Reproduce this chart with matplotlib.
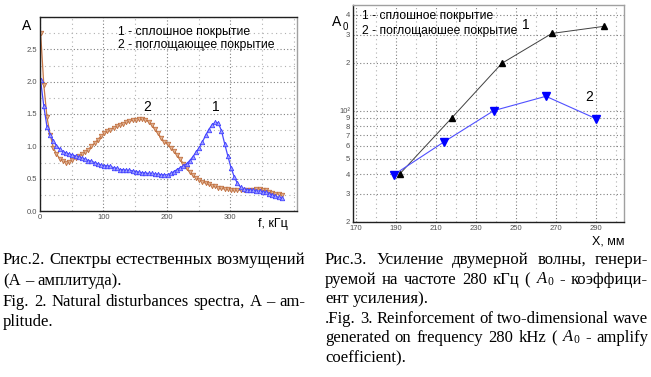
import matplotlib
matplotlib.use('Agg')
import matplotlib.pyplot as plt
from matplotlib.ticker import FixedLocator, MultipleLocator, NullFormatter
from matplotlib.transforms import IdentityTransform
import numpy as np

plt.rcParams['font.family'] = ['Liberation Sans', 'DejaVu Sans']
plt.rcParams['mathtext.fontset'] = 'custom'
plt.rcParams['mathtext.it'] = 'Liberation Serif:italic'
plt.rcParams['mathtext.rm'] = 'Liberation Serif'

# ---------------- Data: Fig. 2 (spectra) ----------------
freq_khz = list(range(1, 382, 5))
amp_solid = [2.02, 1.62, 1.30, 1.18, 1.08, 1.01, 0.96, 0.92, 0.90, 0.88,
             0.87, 0.85, 0.83, 0.82, 0.80, 0.78, 0.77, 0.75, 0.73, 0.71,
             0.70, 0.70, 0.69, 0.67, 0.66, 0.64, 0.64, 0.63, 0.63, 0.62,
             0.61, 0.60, 0.59, 0.59, 0.58, 0.58, 0.57, 0.57, 0.56, 0.56,
             0.56, 0.58, 0.61, 0.64, 0.67, 0.70, 0.73, 0.78, 0.84, 0.91,
             0.98, 1.07, 1.17, 1.26, 1.33, 1.37, 1.36, 1.24, 1.04, 0.85,
             0.67, 0.53, 0.43, 0.37, 0.34, 0.33, 0.33, 0.32, 0.31, 0.31,
             0.30, 0.29, 0.27, 0.25, 0.23, 0.21, 0.20]
amp_absorb = [2.75, 1.95, 1.45, 1.18, 0.98, 0.88, 0.81, 0.77, 0.75, 0.76,
              0.79, 0.82, 0.85, 0.88, 0.91, 0.95, 1.00, 1.05, 1.10, 1.16,
              1.20, 1.23, 1.26, 1.29, 1.31, 1.33, 1.35, 1.37, 1.39, 1.40,
              1.41, 1.42, 1.42, 1.41, 1.38, 1.33, 1.27, 1.20, 1.13, 1.07,
              1.03, 0.98, 0.93, 0.87, 0.80, 0.73, 0.66, 0.60, 0.55, 0.51,
              0.48, 0.45, 0.43, 0.41, 0.39, 0.38, 0.36, 0.35, 0.34, 0.34,
              0.33, 0.33, 0.33, 0.32, 0.32, 0.32, 0.32, 0.33, 0.34, 0.34,
              0.33, 0.32, 0.30, 0.28, 0.27, 0.26, 0.25]
x2_ticks = [0, 100, 200, 300]
y2_ticks = [0.0, 0.5, 1.0, 1.5, 2.0, 2.5]
y2_ticklabels = ['0.0', '0.5', '1.0', '1.5', '2.0', '2.5']

# ---------------- Data: Fig. 3 (amplification) ----------------
x_solid_mm = [192, 218, 243, 268, 294]
a0_solid = [40, 90, 198, 305, 338]
x_absorb_mm = [189, 214, 239, 265, 290]
a0_absorb = [39.5, 63.5, 100, 123, 89]
x3_ticks = [170, 190, 210, 230, 250, 270, 290]
y3_ticks = [20, 30, 40, 50, 60, 70, 80, 90, 100, 200, 300, 400]
y3_ticklabels = ['2', '3', '4', '5', '6', '7', '8', '9', '10²', '2', '3', '4']

legend_lines_2 = ['1 - сплошное покрытие', '2 - поглощающее покрытие']
legend_lines_3 = ['1 - сплошное покрытие', '2 - поглощаюшее покрытие']

W, H = 651, 377
fig = plt.figure(figsize=(W / 100, H / 100), dpi=100)

def ax_rect(l, t, r, b):
    return [l / W, 1 - b / H, (r - l) / W, (b - t) / H]

tick_col = '#505050'
grid_major = dict(color='#808080', linestyle=(0, (1, 2)), linewidth=0.8)
grid_minor = dict(color='#b0b0b0', linestyle=(0, (1, 3)), linewidth=0.8)

# ---------- Left chart ----------
ax1 = fig.add_axes(ax_rect(40, 17, 297, 211))
ax1.plot(freq_khz, amp_absorb, color='#c87848', lw=0.9, marker='v', ms=3.2,
         mfc='#e0b090', mec='#c07040', mew=0.6)
ax1.plot(freq_khz, amp_solid, color='#4848ff', lw=0.9, marker='^', ms=3.2,
         mfc='#a0a0ff', mec='#4040ff', mew=0.6)
ax1.set_xlim(0, 405)
ax1.set_ylim(0, 3.0)
ax1.xaxis.set_major_locator(FixedLocator(x2_ticks))
ax1.xaxis.set_minor_locator(MultipleLocator(50))
ax1.yaxis.set_major_locator(FixedLocator(y2_ticks))
ax1.yaxis.set_minor_locator(MultipleLocator(0.25))
ax1.set_yticklabels(y2_ticklabels)
ax1.grid(True, which='major', **grid_major)
ax1.grid(True, which='minor', **grid_minor)
ax1.tick_params(which='both', length=0, labelsize=5.5, labelcolor=tick_col, pad=2)
ax1.set_axisbelow(True)
for s in ['left', 'top', 'bottom']:
    ax1.spines[s].set_color('#202020')
    ax1.spines[s].set_linewidth(1.0)
ax1.spines['right'].set_color('#a0a0a0')
ax1.spines['right'].set_linewidth(1.0)

fig.text(27 / W, 1 - 26 / H, 'A', fontsize=10, ha='center', va='center')
fig.text(118 / W, 1 - 32 / H, legend_lines_2[0], fontsize=8.8, ha='left', va='center')
fig.text(118 / W, 1 - 45 / H, legend_lines_2[1], fontsize=8.8, ha='left', va='center')
fig.text(147 / W, 1 - 107 / H, '2', fontsize=10, ha='center', va='center')
fig.text(216 / W, 1 - 107 / H, '1', fontsize=10, ha='center', va='center')
fig.text(273 / W, 1 - 224 / H, 'f, кГц', fontsize=9, ha='center', va='center')

# ---------- Right chart ----------
ax2 = fig.add_axes(ax_rect(353, 5, 624, 222))
ax2.set_yscale('log')
ax2.plot(x_solid_mm, a0_solid, color='#404040', lw=0.7, marker='^', ms=5,
         mfc='black', mec='black')
ax2.plot(x_absorb_mm, a0_absorb, color='#5050ff', lw=0.8, marker='v', ms=6,
         mfc='#0000ff', mec='#0000ff')
ax2.set_xlim(168.7, 304)
ax2.set_ylim(20, 460)
ax2.xaxis.set_major_locator(FixedLocator(x3_ticks))
ax2.xaxis.set_minor_locator(FixedLocator([180, 200, 220, 240, 260, 280, 300]))
ax2.yaxis.set_major_locator(FixedLocator(y3_ticks))
ax2.yaxis.set_minor_locator(FixedLocator([]))
ax2.yaxis.set_minor_formatter(NullFormatter())
ax2.set_yticklabels(y3_ticklabels)
ax2.grid(True, which='major', axis='both', **grid_major)
ax2.grid(True, which='minor', axis='x', **grid_minor)
ax2.tick_params(which='both', length=0, labelsize=5.5, labelcolor=tick_col, pad=2)
ax2.set_axisbelow(True)
for s in ['left', 'bottom']:
    ax2.spines[s].set_color('#202020')
    ax2.spines[s].set_linewidth(1.0)
for s in ['top', 'right']:
    ax2.spines[s].set_color('#a0a0a0')
    ax2.spines[s].set_linewidth(1.0)

fig.text(337 / W, 1 - 22 / H, 'A', fontsize=10, ha='center', va='center')
fig.text(345 / W, 1 - 27 / H, '0', fontsize=7, ha='center', va='center')
fig.text(362 / W, 1 - 16 / H, legend_lines_3[0], fontsize=8.7, ha='left', va='center')
fig.text(362 / W, 1 - 31 / H, legend_lines_3[1], fontsize=8.7, ha='left', va='center')
fig.text(526 / W, 1 - 25 / H, '1', fontsize=10, ha='center', va='center')
fig.text(589 / W, 1 - 97 / H, '2', fontsize=10, ha='center', va='center')
fig.text(608 / W, 1 - 241 / H, 'X, мм', fontsize=9, ha='center', va='center')

# ---------- Captions ----------
renderer = fig.canvas.get_renderer()
cap_kw = dict(family='Liberation Serif', fontsize=12, color='black')

def caption_line(text, x0, x1, baseline_top, justify):
    words = text.split(' ')
    ys = H - baseline_top
    ts = []
    widths = []
    for w in words:
        t = fig.text(0, 0, w, transform=IdentityTransform(), va='baseline', ha='left', **cap_kw)
        ts.append(t)
        widths.append(t.get_window_extent(renderer).width)
    space = 0.25 * cap_kw['fontsize'] * 100 / 72
    if justify and len(words) > 1:
        space = max(2.0, (x1 - x0 - sum(widths)) / (len(words) - 1))
    x = x0
    for t, wd in zip(ts, widths):
        t.set_position((x, ys))
        x += wd + space

left_caption = [
    ('Рис.2. Спектры естественных возмущений', True),
    ('(А – амплитуда).', False),
    ('Fig. 2. Natural disturbances spectra, A – am-', True),
    ('plitude.', False),
]
for i, (txt, j) in enumerate(left_caption):
    caption_line(txt, 3, 305, [264, 285, 306, 326][i], j)

right_caption = [
    ('Рис.3. Усиление двумерной волны, генери-', True),
    ('руемой на частоте 280 кГц ( $A_0$ - коэффици-', True),
    ('ент усиления).', False),
    ('.Fig. 3. Reinforcement of two-dimensional wave', True),
    ('generated on frequency 280 kHz ( $A_0$ - amplify', True),
    ('coefficient).', False),
]
for i, (txt, j) in enumerate(right_caption):
    caption_line(txt, 325, 648, [264, 284, 303, 323, 342, 362][i], j)

fig.savefig('out.png', dpi=100)
